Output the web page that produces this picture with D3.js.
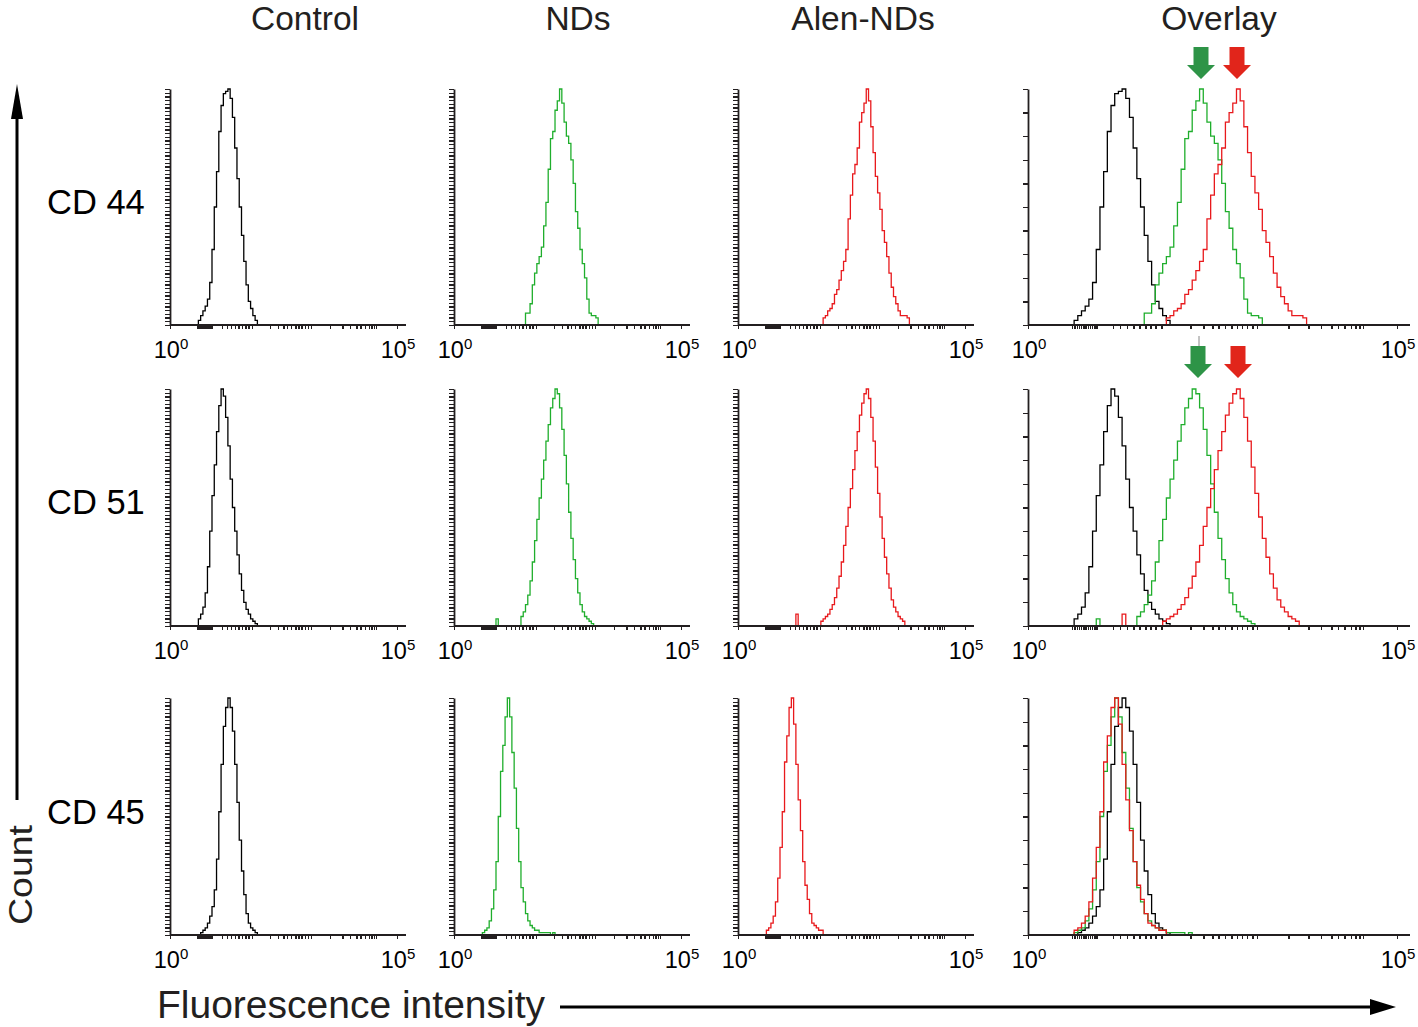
<!DOCTYPE html>
<html><head><meta charset="utf-8">
<script src="https://cdn.jsdelivr.net/npm/d3@7"></script>
<style>body{margin:0;background:#fff}svg{display:block}</style>
</head><body>
<svg id="chart" width="1418" height="1027"></svg>
<script>
// ---------------- DATA ----------------
const columns = ["Control", "NDs", "Alen-NDs", "Overlay"];
const rowLabels = ["CD 44", "CD 51", "CD 45"];
const xTickLabels = [{base: "10", exp: "0", value: 1}, {base: "10", exp: "5", value: 1e5}];
// exponent (log10) positions of x-axis tick marks
const xTickExponents = [0, 0.60, 0.63, 0.66, 0.69, 0.72, 0.75, 0.78, 0.81, 0.84, 0.87, 0.90, 0.93,
  1.15, 1.25, 1.34, 1.43, 1.51, 1.59, 1.66, 1.73, 1.81,
  2.20, 2.38, 2.50, 2.58, 2.67, 2.76, 2.83, 2.90, 2.97, 3.04, 3.10,
  3.53, 3.80, 3.97, 4.11, 4.20, 4.29, 4.38, 4.44, 4.49, 4.54, 5];
const binWidth = 0.05; // log10 units per histogram channel

// histograms: % of modal count, first bin exponent given in *Start
const cd44ControlStart = 0.60;
const cd44Control = [0, 2, 4, 6, 8, 11, 18, 32, 50, 65, 82, 93, 98, 99, 100, 96, 88, 75, 62, 50, 38, 27, 17, 10, 7, 4, 2, 0];
const cd44NDsStart = 1.55;
const cd44NDs = [0, 5, 5, 9, 17, 22, 26, 29, 33, 42, 52, 66, 79, 82, 91, 95, 100, 94, 86, 80, 77, 70, 60, 48, 41, 32, 26, 20, 11, 5, 4, 4, 3, 0];
const cd44AlenStart = 1.85;
const cd44Alen = [0, 3, 4, 6, 7, 9, 13, 15, 19, 23, 27, 32, 45, 55, 64, 68, 75, 86, 90, 94, 100, 95, 84, 73, 63, 56, 49, 40, 35, 29, 22, 16, 12, 9, 6, 4, 4, 4, 3, 0];

const cd51ControlStart = 0.60;
const cd51Control = [0, 3, 5, 8, 14, 25, 40, 55, 68, 82, 93, 100, 97, 88, 76, 62, 50, 40, 30, 22, 15, 10, 7, 5, 3, 2, 1, 0];
const cd51NDsStart = 0.85;
const cd51NDs = [0, 0, 3, 0, 0, 0, 0, 0, 0, 0, 0, 0, 0, 4, 6, 9, 13, 19, 27, 36, 45, 54, 62, 70, 78, 85, 92, 96, 100, 98, 92, 83, 72, 60, 48, 37, 28, 20, 14, 9, 6, 4, 3, 2, 1, 0];
const cd51AlenStart = 1.20;
const cd51Alen = [0, 0, 5, 0, 0, 0, 0, 0, 0, 0, 0, 0, 0, 2, 3, 4, 5, 7, 9, 12, 16, 21, 27, 34, 42, 50, 58, 66, 74, 82, 89, 94, 98, 100, 96, 88, 78, 67, 56, 46, 37, 29, 22, 16, 11, 8, 6, 4, 3, 2, 0];

const cd45ControlStart = 0.65;
const cd45Control = [0, 1, 2, 3, 5, 8, 12, 19, 32, 52, 72, 88, 96, 100, 96, 86, 72, 56, 40, 27, 17, 9, 5, 3, 2, 1, 0];
const cd45NDsStart = 0.60;
const cd45NDs = [0, 1, 2, 3, 6, 11, 19, 31, 50, 69, 80, 92, 100, 92, 77, 62, 45, 31, 20, 14, 9, 6, 4, 3, 2, 2, 1, 1, 1, 1, 1, 0, 1, 0];
const cd45AlenStart = 0.60;
const cd45Alen = [0, 2, 3, 5, 8, 14, 24, 37, 52, 73, 84, 96, 100, 89, 72, 57, 44, 31, 21, 15, 9, 5, 4, 3, 2, 2, 0];

const seriesColors = ["#000000", "#1fae2c", "#e8191c"];
const arrowColors = ["#2e9447", "#e1251b"];

// ---------------- LAYOUT ----------------
const svg = d3.select("#chart");
const font = "'Liberation Sans', Arial, Helvetica, sans-serif";
const axisColor = "#231f20";

const rowTop = [89, 389, 698];
const rowAxis = [325, 626, 935];
const colLeft = [170, 454, 738, 1028];
const colRight = [397, 681, 965, 1397];
const colExtend = [9, 9, 9, 13];
const yTickCount = [64, 64, 64, 10];

const data = [
  [[cd44ControlStart, cd44Control], [cd44NDsStart, cd44NDs], [cd44AlenStart, cd44Alen]],
  [[cd51ControlStart, cd51Control], [cd51NDsStart, cd51NDs], [cd51AlenStart, cd51Alen]],
  [[cd45ControlStart, cd45Control], [cd45NDsStart, cd45NDs], [cd45AlenStart, cd45Alen]]
];

function toPoints(start, values) {
  return values.map((v, i) => ({x: Math.pow(10, start + i * binWidth), y: v}));
}

// column titles
const titleX = [305, 578, 863, 1219];
columns.forEach((c, i) => {
  svg.append("text").attr("x", titleX[i]).attr("y", 30)
    .attr("text-anchor", "middle").attr("font-family", font).attr("font-size", 33.5)
    .attr("fill", "#231f20").text(c);
});
// row labels
const rowLabelY = [214, 514, 824];
rowLabels.forEach((r, i) => {
  svg.append("text").attr("x", 47).attr("y", rowLabelY[i])
    .attr("font-family", font).attr("font-size", 34.5).attr("fill", "#000").text(r);
});

for (let r = 0; r < 3; r++) {
  for (let c = 0; c < 4; c++) {
    const x = d3.scaleLog().domain([1, 1e5]).range([colLeft[c], colRight[c]]);
    const y = d3.scaleLinear().domain([0, 100]).range([rowAxis[r], rowTop[r]]);
    const g = svg.append("g");

    // histograms
    const line = d3.line().x(d => x(d.x)).y(d => y(d.y)).curve(d3.curveStep);
    const series = c < 3 ? [c] : [0, 1, 2];
    series.forEach(s => {
      const [start, vals] = data[r][s];
      g.append("path").datum(toPoints(start, vals))
        .attr("d", line).attr("fill", "none")
        .attr("stroke", seriesColors[s]).attr("stroke-width", 1.3);
    });

    // x axis
    const xAxis = d3.axisBottom(x).tickValues(xTickExponents.map(e => Math.pow(10, e)))
      .tickFormat("").tickSize(4).tickSizeOuter(0);
    const ax = g.append("g").attr("transform", `translate(0,${rowAxis[r]})`).call(xAxis);
    ax.select(".domain").remove();
    ax.selectAll(".tick line").attr("stroke", axisColor).attr("stroke-width", 1.4)
      .attr("shape-rendering", "crispEdges");
    g.append("line").attr("x1", colLeft[c]).attr("x2", colRight[c] + colExtend[c])
      .attr("y1", rowAxis[r]).attr("y2", rowAxis[r]).attr("stroke", axisColor).attr("stroke-width", 2)
      .attr("shape-rendering", "crispEdges");

    // y axis
    const yAxis = d3.axisLeft(y)
      .tickValues(d3.range(yTickCount[c] + 1).map(i => i * 100 / yTickCount[c]))
      .tickFormat("").tickSize(5).tickSizeOuter(0);
    const ay = g.append("g").attr("transform", `translate(${colLeft[c]},0)`).call(yAxis);
    ay.select(".domain").attr("stroke", axisColor).attr("stroke-width", 1.8);
    ay.selectAll(".tick line").attr("stroke", axisColor).attr("stroke-width", 1.3)
      .attr("shape-rendering", "crispEdges");

    // tick labels
    xTickLabels.forEach(t => {
      const tx = g.append("text").attr("x", x(t.value) + 1).attr("y", rowAxis[r] + 33)
        .attr("text-anchor", "middle").attr("font-family", font).attr("font-size", 23.5).attr("fill", "#000");
      tx.append("tspan").text(t.base);
      tx.append("tspan").attr("font-size", 15).attr("dy", -9.5).text(t.exp);
    });
  }
}

// indicator arrows in the overlay panels (CD 44 and CD 51)
const arrowSpecs = [
  {x: 1201, y: 47, color: arrowColors[0]}, {x: 1237, y: 47, color: arrowColors[1]},
  {x: 1198, y: 346, color: arrowColors[0]}, {x: 1238, y: 346, color: arrowColors[1]}
];
arrowSpecs.forEach(a => {
  const sw = 7.5, hw = 14, h = 32, hh = 14;
  const pts = [[a.x - sw, a.y], [a.x + sw, a.y], [a.x + sw, a.y + h - hh], [a.x + hw, a.y + h - hh],
    [a.x, a.y + h], [a.x - hw, a.y + h - hh], [a.x - sw, a.y + h - hh]];
  svg.append("polygon").attr("points", pts.map(p => p.join(",")).join(" ")).attr("fill", a.color);
});
svg.append("line").attr("x1", 1199).attr("x2", 1199).attr("y1", 336).attr("y2", 346)
  .attr("stroke", "#888").attr("stroke-width", 1);

// Count arrow (vertical)
svg.append("line").attr("x1", 17).attr("x2", 17).attr("y1", 800).attr("y2", 110)
  .attr("stroke", "#000").attr("stroke-width", 3);
svg.append("polygon").attr("points", "17,84 11,119 23,119").attr("fill", "#000");
svg.append("text").attr("transform", "translate(32,875) rotate(-90)")
  .attr("text-anchor", "middle").attr("font-family", font).attr("font-size", 34)
  .attr("textLength", 100).attr("lengthAdjust", "spacingAndGlyphs")
  .attr("fill", "#231f20").text("Count");

// Fluorescence intensity arrow (horizontal)
svg.append("text").attr("x", 157).attr("y", 1018).attr("font-family", font).attr("font-size", 39)
  .attr("fill", "#231f20").text("Fluorescence intensity");
svg.append("line").attr("x1", 560).attr("x2", 1375).attr("y1", 1007).attr("y2", 1007)
  .attr("stroke", "#000").attr("stroke-width", 3);
svg.append("polygon").attr("points", "1396,1007 1370,999 1370,1015").attr("fill", "#000");
</script>
</body></html>
